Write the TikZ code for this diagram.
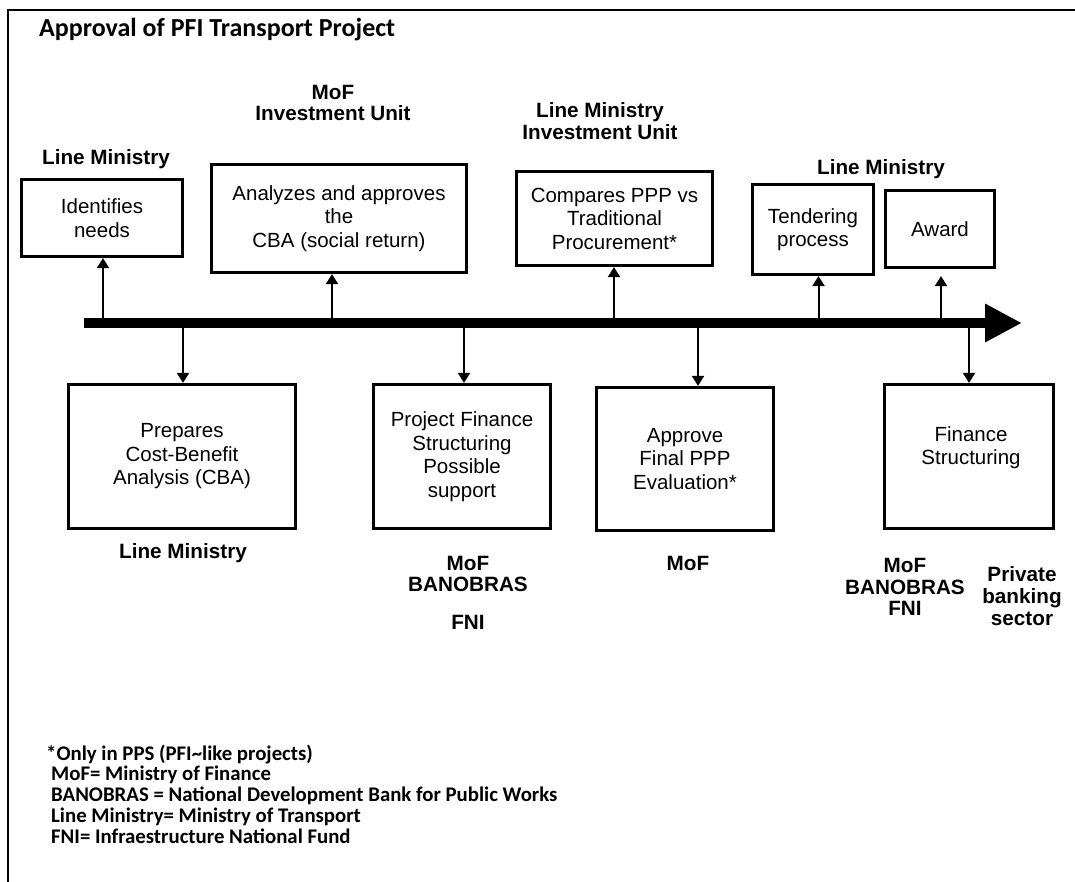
\documentclass[tikz,border=0pt]{standalone}
\usepackage{fontspec}
\setmainfont{Liberation Sans}
\newfontfamily\calib{Carlito}
\usetikzlibrary{arrows.meta}
\begin{document}
\begin{tikzpicture}[x=1pt,y=-1pt,
  box/.style={draw, line width=3.2pt, inner sep=2pt, align=center, font=\fontsize{20.5}{23.5}\selectfont},
  boxtext/.style={inner sep=0pt, align=center, font=\fontsize{20.5}{23.5}\selectfont},
  lab/.style={align=center, inner sep=0pt, font=\bfseries\fontsize{20.7}{21.8}\selectfont},
  note/.style={anchor=base west, inner sep=0pt, font=\calib\bfseries\fontsize{20.8}{20.7}\selectfont},
  conn/.style={line width=2pt, -{Triangle[width=12pt,length=10pt]}},
  timeline/.style={line width=10pt, -{Triangle[width=36pt,length=37pt]}},
  frame/.style={line width=2pt}]
\useasboundingbox (0,0) rectangle (1075,882);
% frame
\coordinate (fbl) at (8,882);
\coordinate (ftl) at (8,10);
\coordinate (ftr) at (1075,10);
\draw[frame] (fbl) -- (ftl) -- (ftr);
% title
\node[anchor=base west, inner sep=0pt, font=\calib\bfseries\fontsize{26}{30}\selectfont] (title) at (39,37) {Approval of PFI Transport Project};
% boxes
\node[box, minimum width=161pt, minimum height=77pt] (identify) at (102,218) {Identifies\\needs};
\node[box, minimum width=255pt, minimum height=108pt] (analyze) at (339,218.5) {Analyzes and approves\\the\\CBA (social return)};
\node[box, minimum width=196pt, minimum height=94pt] (compare) at (614.5,218.5) {Compares PPP vs\\Traditional\\Procurement*};
\node[box, minimum width=121pt, minimum height=90pt] (tender) at (813,229.5) {Tendering\\process};
\node[box, minimum width=109pt, minimum height=77pt] (award) at (940,229) {Award};
\node[box, minimum width=227pt, minimum height=144pt] (prepare) at (182,456.5) {Prepares\\Cost-Benefit\\Analysis (CBA)};
\node[box, minimum width=177pt, minimum height=144pt] (pfs) at (462,456.5) {Project Finance\\Structuring\\Possible\\support};
\node[box, minimum width=177pt, minimum height=143pt] (approve) at (685,459) {Approve\\Final PPP\\Evaluation*};
\node[box, minimum width=169pt, minimum height=144pt] (finance) at (969,456.5) {};
\node[boxtext] (financetext) at (971,447.5) {Finance\\Structuring};
% labels
\node[lab] (lm1) at (106,159) {Line Ministry};
\node[lab] (mofiu) at (333,103) {MoF\\Investment Unit};
\node[lab] (lmiu) at (600,121.5) {Line Ministry\\Investment Unit};
\node[lab] (lm2) at (881,169) {Line Ministry};
\node[lab] (lm3) at (183,553) {Line Ministry};
\node[lab] (mofban1) at (468,574) {MoF\\BANOBRAS};
\node[lab] (fni1) at (468,622) {FNI};
\node[lab] (mof2) at (688,563) {MoF};
\node[lab] (mofban2) at (905,587) {MoF\\BANOBRAS\\FNI};
\node[lab] (private) at (1022,596) {Private\\banking\\sector};
% timeline
\coordinate (tstart) at (84,323);
\coordinate (tend) at (1022,323);
\draw[timeline] (tstart) -- (tend);
% points on the timeline
\coordinate (p1) at (103,323);
\coordinate (p2) at (183,323);
\coordinate (p3) at (332,323);
\coordinate (p4) at (464,323);
\coordinate (p5) at (614,323);
\coordinate (p6) at (698,323);
\coordinate (p7) at (818.5,323);
\coordinate (p8) at (941,323);
\coordinate (p9) at (969,323);
\draw[conn] (p1) -- (p1 |- identify.south);
\draw[conn] (p2) -- (p2 |- prepare.north);
\draw[conn] (p3) -- (p3 |- analyze.south);
\draw[conn] (p4) -- (p4 |- pfs.north);
\draw[conn] (p5) -- (p5 |- compare.south);
\draw[conn] (p6) -- (p6 |- approve.north);
\draw[conn] (p7) -- (p7 |- tender.south);
\draw[conn, shorten >=7pt] (p8) -- (p8 |- award.south);
\draw[conn] (p9) -- (p9 |- finance.north);
% notes
\node[note] (n1) at (46,760) {*Only in PPS (PFI\textasciitilde like projects)};
\node[note] (n2) at (51,780) {MoF= Ministry of Finance};
\node[note] (n3) at (51,801) {BANOBRAS = National Development Bank for Public Works};
\node[note] (n4) at (51,822) {Line Ministry= Ministry of Transport};
\node[note] (n5) at (51,843) {FNI= Infraestructure National Fund};
\end{tikzpicture}
\end{document}
